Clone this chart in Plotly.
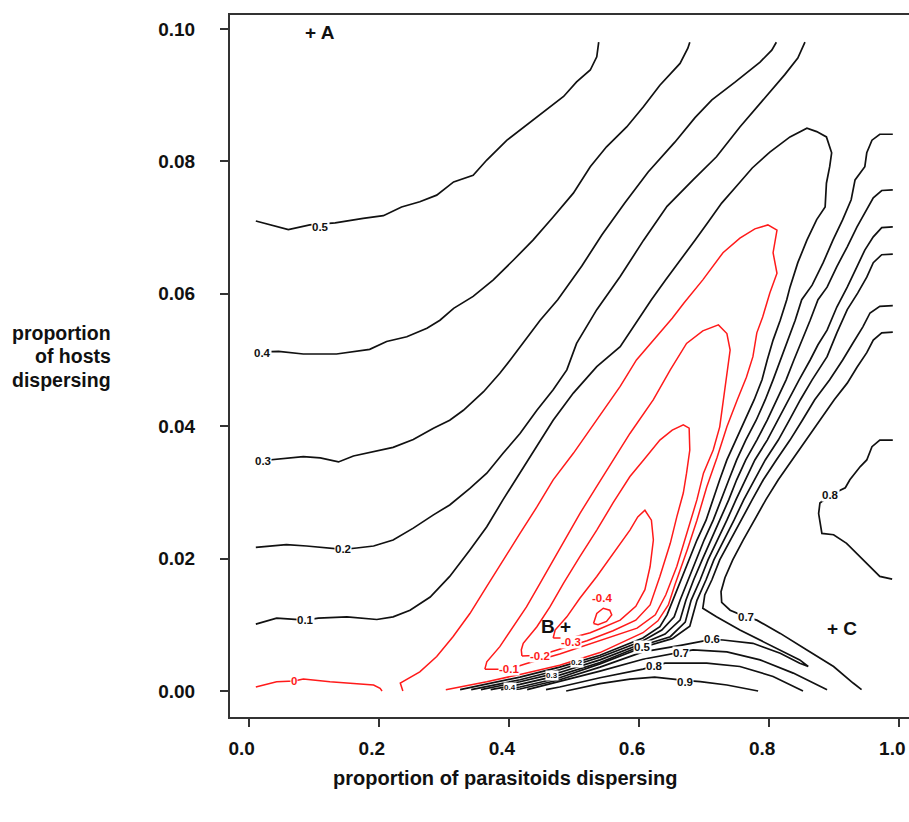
import plotly.graph_objects as go

# ---------------- axis / tick data ----------------
x_ticks = [0.0, 0.2, 0.4, 0.6, 0.8, 1.0]
x_tick_text = ["0.0", "0.2", "0.4", "0.6", "0.8", "1.0"]
y_ticks = [0.00, 0.02, 0.04, 0.06, 0.08, 0.10]
y_tick_text = ["0.00", "0.02", "0.04", "0.06", "0.08", "0.10"]

# ---------------- contour lines ----------------
# level 0.5 (upper-left family)
c05a_x = [0.011, 0.061, 0.094, 0.133, 0.176, 0.207, 0.235, 0.263, 0.289, 0.315, 0.345, 0.366, 0.397, 0.427, 0.458, 0.484, 0.504, 0.525, 0.535, 0.538]
c05a_y = [0.0710, 0.0697, 0.0704, 0.0707, 0.0714, 0.0718, 0.0731, 0.0739, 0.0749, 0.0769, 0.0779, 0.0802, 0.0832, 0.0855, 0.0878, 0.0898, 0.0920, 0.0938, 0.0958, 0.0980]
# level 0.4
c04a_x = [0.011, 0.046, 0.084, 0.135, 0.186, 0.212, 0.243, 0.274, 0.294, 0.315, 0.345, 0.376, 0.407, 0.437, 0.468, 0.499, 0.525, 0.550, 0.581, 0.607, 0.632, 0.663, 0.675, 0.678]
c04a_y = [0.0512, 0.0513, 0.0509, 0.0509, 0.0516, 0.0528, 0.0535, 0.0548, 0.0560, 0.0578, 0.0596, 0.0621, 0.0651, 0.0681, 0.0716, 0.0752, 0.0792, 0.0822, 0.0852, 0.0883, 0.0915, 0.0948, 0.0971, 0.0980]
# level 0.3
c03a_x = [0.011, 0.046, 0.084, 0.110, 0.138, 0.161, 0.186, 0.222, 0.253, 0.284, 0.309, 0.330, 0.361, 0.386, 0.402, 0.448, 0.475, 0.512, 0.543, 0.578, 0.614, 0.655, 0.686, 0.712, 0.748, 0.786, 0.804, 0.811]
c03a_y = [0.0347, 0.0350, 0.0354, 0.0352, 0.0346, 0.0355, 0.0360, 0.0368, 0.0380, 0.0397, 0.0409, 0.0424, 0.0452, 0.0480, 0.0500, 0.0560, 0.0591, 0.0642, 0.0689, 0.0737, 0.0784, 0.0829, 0.0866, 0.0893, 0.0920, 0.0950, 0.0968, 0.0980]
# level 0.2
c02a_x = [0.011, 0.058, 0.089, 0.145, 0.166, 0.192, 0.222, 0.253, 0.284, 0.309, 0.340, 0.366, 0.391, 0.417, 0.443, 0.468, 0.489, 0.504, 0.535, 0.571, 0.607, 0.643, 0.683, 0.719, 0.755, 0.791, 0.824, 0.844, 0.855]
c02a_y = [0.0217, 0.0221, 0.0219, 0.0214, 0.0216, 0.0219, 0.0228, 0.0246, 0.0266, 0.0281, 0.0306, 0.0329, 0.0359, 0.0389, 0.0424, 0.0455, 0.0485, 0.0525, 0.0576, 0.0626, 0.0681, 0.0732, 0.0772, 0.0807, 0.0852, 0.0893, 0.0931, 0.0956, 0.0980]
# level 0.1 (wraps round the valley)
c01_x = [0.011, 0.043, 0.088, 0.107, 0.151, 0.197, 0.222, 0.248, 0.279, 0.309, 0.340, 0.366, 0.391, 0.417, 0.443, 0.468, 0.499, 0.535, 0.571, 0.595, 0.619, 0.641, 0.664, 0.686, 0.706, 0.727, 0.751, 0.774, 0.801, 0.832, 0.858,
         0.873, 0.888, 0.896, 0.893, 0.888, 0.886, 0.873, 0.858, 0.844, 0.832, 0.827, 0.817, 0.806, 0.797, 0.789, 0.777, 0.763, 0.749, 0.735, 0.724, 0.714, 0.703, 0.689, 0.677, 0.664, 0.652, 0.643, 0.632, 0.606, 0.540, 0.478, 0.417, 0.325]
c01_y = [0.0101, 0.0110, 0.0107, 0.0110, 0.0112, 0.0108, 0.0112, 0.0122, 0.0142, 0.0173, 0.0213, 0.0248, 0.0289, 0.0329, 0.0369, 0.0409, 0.0450, 0.0490, 0.0520, 0.0556, 0.0591, 0.0621, 0.0651, 0.0681, 0.0708, 0.0737, 0.0764, 0.0790, 0.0814, 0.0837, 0.0850,
         0.0845, 0.0837, 0.0813, 0.0792, 0.0767, 0.0731, 0.0712, 0.0681, 0.0647, 0.0610, 0.0591, 0.0560, 0.0530, 0.0500, 0.0470, 0.0440, 0.0409, 0.0379, 0.0349, 0.0319, 0.0289, 0.0258, 0.0228, 0.0198, 0.0168, 0.0137, 0.0115, 0.0097, 0.0080, 0.0054, 0.0036, 0.0021, 0.0002]
# right-hand family, levels 0.2 .. 0.7
c02b_x = [0.990, 0.970, 0.958, 0.950, 0.947, 0.932, 0.926, 0.913, 0.898, 0.883, 0.866, 0.850, 0.840, 0.829, 0.817, 0.806, 0.794, 0.780, 0.764, 0.750, 0.738, 0.726, 0.714, 0.700, 0.688, 0.675, 0.663, 0.654, 0.635, 0.606, 0.540, 0.478, 0.417, 0.342]
c02b_y = [0.0841, 0.0841, 0.0832, 0.0813, 0.0792, 0.0772, 0.0742, 0.0712, 0.0681, 0.0647, 0.0613, 0.0591, 0.0560, 0.0530, 0.0500, 0.0470, 0.0440, 0.0409, 0.0379, 0.0349, 0.0319, 0.0289, 0.0258, 0.0228, 0.0198, 0.0168, 0.0137, 0.0112, 0.0092, 0.0076, 0.0051, 0.0032, 0.0017, 0.0002]
c03b_x = [0.990, 0.973, 0.960, 0.950, 0.935, 0.920, 0.904, 0.889, 0.875, 0.863, 0.850, 0.838, 0.826, 0.812, 0.797, 0.781, 0.764, 0.750, 0.738, 0.724, 0.710, 0.697, 0.684, 0.672, 0.663, 0.640, 0.606, 0.540, 0.478, 0.417, 0.357]
c03b_y = [0.0757, 0.0756, 0.0745, 0.0727, 0.0701, 0.0671, 0.0641, 0.0610, 0.0591, 0.0560, 0.0530, 0.0500, 0.0470, 0.0440, 0.0409, 0.0379, 0.0349, 0.0319, 0.0289, 0.0258, 0.0228, 0.0198, 0.0168, 0.0137, 0.0107, 0.0086, 0.0072, 0.0047, 0.0028, 0.0014, 0.0002]
c04b_x = [0.990, 0.973, 0.960, 0.947, 0.935, 0.920, 0.904, 0.889, 0.875, 0.863, 0.846, 0.830, 0.814, 0.797, 0.778, 0.763, 0.749, 0.735, 0.720, 0.706, 0.694, 0.680, 0.671, 0.648, 0.606, 0.540, 0.478, 0.417, 0.372]
c04b_y = [0.0701, 0.0700, 0.0686, 0.0666, 0.0641, 0.0610, 0.0580, 0.0545, 0.0523, 0.0500, 0.0470, 0.0440, 0.0409, 0.0379, 0.0349, 0.0319, 0.0289, 0.0258, 0.0228, 0.0198, 0.0168, 0.0137, 0.0104, 0.0082, 0.0069, 0.0043, 0.0024, 0.0010, 0.0002]
c05b_x = [0.990, 0.973, 0.960, 0.950, 0.936, 0.920, 0.904, 0.889, 0.866, 0.848, 0.831, 0.814, 0.794, 0.777, 0.761, 0.746, 0.731, 0.715, 0.703, 0.689, 0.678, 0.651, 0.606, 0.540, 0.478, 0.417, 0.388]
c05b_y = [0.0660, 0.0659, 0.0647, 0.0625, 0.0601, 0.0576, 0.0541, 0.0505, 0.0470, 0.0440, 0.0409, 0.0379, 0.0349, 0.0319, 0.0289, 0.0258, 0.0228, 0.0198, 0.0168, 0.0137, 0.0098, 0.0079, 0.0066, 0.0041, 0.0020, 0.0006, 0.0002]
c06_x = [0.990, 0.970, 0.955, 0.944, 0.929, 0.913, 0.893, 0.870, 0.851, 0.832, 0.811, 0.791, 0.774, 0.757, 0.741, 0.724, 0.712, 0.701, 0.698, 0.719, 0.755, 0.806, 0.847, 0.860,
         0.847, 0.817, 0.775, 0.729, 0.712, 0.664, 0.606, 0.540, 0.478, 0.417, 0.405]
c06_y = [0.0582, 0.0581, 0.0571, 0.0550, 0.0526, 0.0500, 0.0470, 0.0440, 0.0409, 0.0379, 0.0349, 0.0319, 0.0289, 0.0258, 0.0228, 0.0198, 0.0168, 0.0145, 0.0125, 0.0112, 0.0092, 0.0067, 0.0047, 0.0037,
         0.0042, 0.0057, 0.0072, 0.0077, 0.0078, 0.0069, 0.0059, 0.0036, 0.0017, 0.0003, 0.0002]
c07a_x = [0.990, 0.973, 0.960, 0.950, 0.935, 0.920, 0.900, 0.878, 0.857, 0.835, 0.814, 0.795, 0.777, 0.760, 0.744, 0.732, 0.726, 0.727, 0.740, 0.764, 0.781, 0.817, 0.858, 0.899, 0.929, 0.942]
c07a_y = [0.0542, 0.0541, 0.0530, 0.0511, 0.0489, 0.0465, 0.0440, 0.0409, 0.0379, 0.0349, 0.0319, 0.0289, 0.0258, 0.0228, 0.0198, 0.0171, 0.0150, 0.0134, 0.0122, 0.0112, 0.0107, 0.0087, 0.0062, 0.0037, 0.0012, 0.0002]
# lower fan, levels 0.7 .. 0.9
c07b_x = [0.428, 0.478, 0.540, 0.606, 0.664, 0.683, 0.735, 0.786, 0.837, 0.889]
c07b_y = [0.0002, 0.0014, 0.0030, 0.0048, 0.0058, 0.0062, 0.0059, 0.0047, 0.0027, 0.0002]
c08a_x = [0.457, 0.478, 0.540, 0.606, 0.624, 0.640, 0.704, 0.755, 0.806, 0.852]
c08a_y = [0.0002, 0.0006, 0.0020, 0.0033, 0.0038, 0.0042, 0.0042, 0.0037, 0.0022, 0.0000]
c09_x = [0.488, 0.540, 0.586, 0.624, 0.670, 0.694, 0.735, 0.783]
c09_y = [0.0000, 0.0011, 0.0018, 0.0021, 0.0016, 0.0014, 0.0009, 0.0000]
# level 0.8 bump at the right edge
c08b_x = [0.990, 0.970, 0.958, 0.950, 0.940, 0.924, 0.917, 0.894, 0.878, 0.876, 0.881, 0.899, 0.919, 0.945, 0.970, 0.989]
c08b_y = [0.0379, 0.0379, 0.0369, 0.0349, 0.0339, 0.0319, 0.0307, 0.0296, 0.0284, 0.0268, 0.0238, 0.0236, 0.0223, 0.0198, 0.0173, 0.0169]
# level 0 (red)
c00a_x = [0.011, 0.043, 0.070, 0.084, 0.125, 0.161, 0.192, 0.202, 0.205]
c00a_y = [0.0006, 0.0014, 0.0015, 0.0018, 0.0014, 0.0011, 0.0009, 0.0004, 0.0000]
c00b_x = [0.237, 0.233, 0.263, 0.289, 0.314, 0.340, 0.366, 0.391, 0.417, 0.443, 0.468, 0.499, 0.535, 0.571, 0.596, 0.627, 0.651, 0.669, 0.698, 0.729, 0.755, 0.778, 0.798,
          0.812, 0.806, 0.812, 0.801, 0.790, 0.781, 0.775, 0.765, 0.751, 0.735, 0.720, 0.704, 0.689, 0.674, 0.655, 0.645, 0.629, 0.606, 0.540, 0.478, 0.417, 0.366, 0.303]
c00b_y = [0.0000, 0.0012, 0.0029, 0.0052, 0.0082, 0.0117, 0.0158, 0.0198, 0.0238, 0.0278, 0.0319, 0.0359, 0.0409, 0.0460, 0.0500, 0.0535, 0.0563, 0.0586, 0.0621, 0.0662, 0.0684, 0.0698, 0.0704,
          0.0696, 0.0662, 0.0631, 0.0601, 0.0565, 0.0541, 0.0505, 0.0474, 0.0440, 0.0399, 0.0353, 0.0308, 0.0258, 0.0213, 0.0160, 0.0130, 0.0106, 0.0088, 0.0058, 0.0039, 0.0025, 0.0014, 0.0002]
# level -0.1
cm1_x = [0.363, 0.366, 0.386, 0.407, 0.427, 0.448, 0.468, 0.489, 0.509, 0.535, 0.560, 0.586, 0.622, 0.648, 0.673, 0.698, 0.722, 0.735, 0.740, 0.735, 0.729, 0.724, 0.714, 0.699, 0.689, 0.673, 0.658, 0.641, 0.625, 0.597, 0.540, 0.478, 0.426, 0.400, 0.363]
cm1_y = [0.0033, 0.0044, 0.0067, 0.0097, 0.0127, 0.0163, 0.0198, 0.0233, 0.0268, 0.0309, 0.0349, 0.0389, 0.0440, 0.0485, 0.0525, 0.0544, 0.0553, 0.0540, 0.0515, 0.0480, 0.0440, 0.0399, 0.0364, 0.0329, 0.0289, 0.0238, 0.0188, 0.0145, 0.0115, 0.0095, 0.0076, 0.0056, 0.0041, 0.0033, 0.0033]
# level -0.2
cm2_x = [0.420, 0.419, 0.422, 0.443, 0.463, 0.484, 0.509, 0.535, 0.560, 0.586, 0.607, 0.632, 0.651, 0.668, 0.677, 0.678, 0.673, 0.668, 0.658, 0.648, 0.632, 0.617, 0.595, 0.560, 0.520, 0.473, 0.448, 0.420]
cm2_y = [0.0053, 0.0062, 0.0072, 0.0097, 0.0127, 0.0163, 0.0203, 0.0243, 0.0284, 0.0324, 0.0349, 0.0379, 0.0394, 0.0402, 0.0397, 0.0364, 0.0329, 0.0299, 0.0263, 0.0223, 0.0173, 0.0130, 0.0107, 0.0091, 0.0076, 0.0062, 0.0054, 0.0053]
# level -0.3
cm3_x = [0.468, 0.471, 0.489, 0.509, 0.535, 0.560, 0.586, 0.598, 0.609, 0.619, 0.622, 0.617, 0.609, 0.595, 0.571, 0.540, 0.525, 0.495, 0.468]
cm3_y = [0.0080, 0.0092, 0.0112, 0.0140, 0.0173, 0.0208, 0.0243, 0.0263, 0.0273, 0.0258, 0.0228, 0.0188, 0.0153, 0.0128, 0.0107, 0.0094, 0.0088, 0.0080, 0.0080]
# level -0.4
cm4_x = [0.530, 0.535, 0.545, 0.555, 0.558, 0.550, 0.537, 0.530]
cm4_y = [0.0102, 0.0117, 0.0125, 0.0122, 0.0115, 0.0105, 0.0100, 0.0102]

# ---------------- contour labels ----------------
lab_text = ["0.5", "0.4", "0.3", "0.2", "0.1", "0", "-0.1", "-0.2", "-0.3", "-0.4",
            "0.5", "0.6", "0.7", "0.8", "0.9", "0.7", "0.8", "0.4", "0.3", "0.2"]
lab_x = [0.111, 0.022, 0.022, 0.145, 0.088, 0.070, 0.400, 0.448, 0.495, 0.543,
         0.606, 0.712, 0.664, 0.624, 0.670, 0.764, 0.894, 0.402, 0.466, 0.505]
lab_y = [0.0701, 0.0510, 0.0347, 0.0214, 0.0107, 0.0015, 0.0033, 0.0053, 0.0074, 0.0140,
         0.0066, 0.0078, 0.0057, 0.0038, 0.0014, 0.0112, 0.0296, 0.0006, 0.0023, 0.0043]
lab_red = [False, False, False, False, False, True, True, True, True, True,
           False, False, False, False, False, False, False, False, False, False]
lab_size = [11.5, 11.5, 11.5, 11.5, 11.5, 11.5, 11.5, 11.5, 11.5, 11.5,
            11.5, 11.5, 11.5, 11.5, 11.5, 11.5, 11.5, 8, 8, 8]

# point markers
pt_text = ["+ A", "B +", "+ C"]
pt_x = [0.110, 0.473, 0.912]
pt_y = [0.0995, 0.0097, 0.0095]

black_lines = [(c05a_x, c05a_y), (c04a_x, c04a_y), (c03a_x, c03a_y), (c02a_x, c02a_y),
               (c01_x, c01_y), (c02b_x, c02b_y), (c03b_x, c03b_y), (c04b_x, c04b_y),
               (c05b_x, c05b_y), (c06_x, c06_y), (c07a_x, c07a_y), (c07b_x, c07b_y),
               (c08a_x, c08a_y), (c09_x, c09_y), (c08b_x, c08b_y)]
red_lines = [(c00a_x, c00a_y), (c00b_x, c00b_y), (cm1_x, cm1_y), (cm2_x, cm2_y),
             (cm3_x, cm3_y), (cm4_x, cm4_y)]

FONT = "Liberation Sans, Arial, Helvetica, sans-serif"
fig = go.Figure()
for xs, ys in black_lines:
    fig.add_trace(go.Scatter(x=xs, y=ys, mode="lines", line=dict(color="#111111", width=1.7),
                             hoverinfo="skip", showlegend=False))
for xs, ys in red_lines:
    fig.add_trace(go.Scatter(x=xs, y=ys, mode="lines", line=dict(color="#ff1a1a", width=1.5),
                             hoverinfo="skip", showlegend=False))

for t, x, y, r, s in zip(lab_text, lab_x, lab_y, lab_red, lab_size):
    fig.add_annotation(x=x, y=y, xref="x", yref="y", text=t, showarrow=False,
                       font=dict(family=FONT, size=s, color="#ff1a1a" if r else "#111111", weight="bold"),
                       bgcolor="white", borderpad=0)

for t, x, y in zip(pt_text, pt_x, pt_y):
    fig.add_annotation(x=x, y=y, xref="x", yref="y", text=t, showarrow=False,
                       font=dict(family=FONT, size=19, color="#111111", weight="bold"))

# axis titles
fig.add_annotation(xref="paper", yref="paper", x=(505 - 230) / 679, y=(717 - 778) / 702,
                   text="proportion of parasitoids dispersing", showarrow=False,
                   xanchor="center", yanchor="middle",
                   font=dict(family=FONT, size=20, color="#111111", weight="bold"))
for line_txt, ypx in zip(["proportion", "of hosts", "dispersing"], [333, 356, 380]):
    fig.add_annotation(xref="paper", yref="paper", x=(113 - 230) / 679, y=(717 - ypx) / 702,
                       text=line_txt, showarrow=False, xanchor="right", yanchor="middle",
                       font=dict(family=FONT, size=19.5, color="#111111", weight="bold"))

fig.update_layout(
    width=909, height=822,
    margin=dict(l=230, r=0, t=15, b=105),
    paper_bgcolor="white", plot_bgcolor="white",
    showlegend=False,
)
fig.update_xaxes(range=[-0.0287, 1.0149], tickmode="array", tickvals=x_ticks, ticktext=x_tick_text,
                 showgrid=False, zeroline=False, showline=True, mirror=True,
                 linecolor="#333333", linewidth=2, ticks="outside", ticklen=8, tickwidth=1.5,
                 tickcolor="#333333", ticklabelstandoff=5, ticklabelshift=-7,
                 ticklabeloverflow="allow",
                 tickfont=dict(family=FONT, size=19, color="#111111", weight="bold"))
fig.update_yaxes(range=[-0.00393, 0.10211], tickmode="array", tickvals=y_ticks, ticktext=y_tick_text,
                 showgrid=False, zeroline=False, showline=True, mirror=False,
                 linecolor="#333333", linewidth=2, ticks="outside", ticklen=8, tickwidth=1.5,
                 tickcolor="#333333", ticklabelstandoff=21,
                 ticklabeloverflow="allow",
                 tickfont=dict(family=FONT, size=19, color="#111111", weight="bold"))

fig.write_html("out.html", config={"displayModeBar": False},
               post_script="document.body.style.margin='0';")
